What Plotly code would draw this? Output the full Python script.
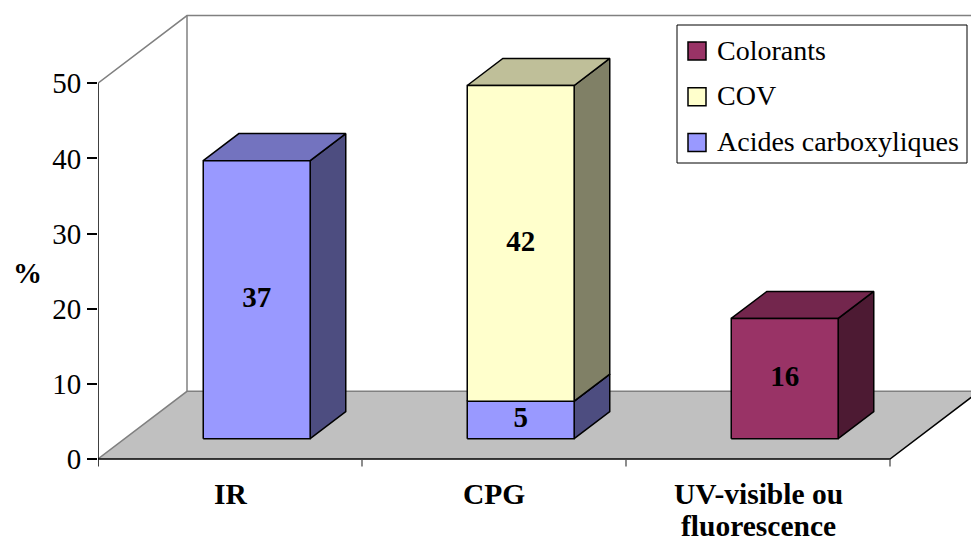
import plotly.graph_objects as go

# ---- data ----
categories = ["IR", "CPG", "UV-visible ou<br>fluorescence"]
acides = [37, 5, 0]
cov = [0, 42, 0]
colorants = [0, 0, 16]
y_ticks = [0, 10, 20, 30, 40, 50]
legend_order = ["Colorants", "COV", "Acides carboxyliques"]

# ---- styling ----
FONT = "Liberation Serif"
face_colors = {
    "Acides carboxyliques": ("#9999FF", "#7373BF", "#4D4D80"),
    "COV": ("#FFFFCC", "#BFBF99", "#808066"),
    "Colorants": ("#993366", "#73264D", "#4D1A33"),
}

# oblique projection: category units on x, value units on y, depth 0..1
DX = 89 / 264      # horizontal shift of the full depth, in category units
DY = 9.0           # vertical shift of the full depth, in value units
F0, F1 = 0.30, 0.70  # depth span of the bars
BAR_W = 0.405
N = len(categories)
Y_MAX = 50

W, H = 971, 546
L = 98
PX_PER_UNIT = 7.515
Y_ZERO_PX = 459
CAT_PX = 264


def P(u, v, d):
    return u + d * DX, v + d * DY


def poly(points, fill, line_color="black", width=1.5, close=True):
    xs, ys = [], []
    for u, v, d in points:
        x, y = P(u, v, d)
        xs.append(x)
        ys.append(y)
    if close:
        xs.append(xs[0])
        ys.append(ys[0])
    return go.Scatter(
        x=xs, y=ys, mode="lines",
        fill="toself" if fill else None,
        fillcolor=fill,
        line=dict(color=line_color, width=width),
        hoverinfo="skip", showlegend=False,
    )


fig = go.Figure()

# floor
fig.add_trace(poly([(0, 0, 0), (N, 0, 0), (N, 0, 1), (0, 0, 1)], "#C0C0C0",
                   line_color="rgba(0,0,0,0)", width=0))
fig.add_trace(poly([(0, 0, 0), (0, 0, 1), (N + 1, 0, 1)], None,
                   line_color="#808080", width=1.5, close=False))
fig.add_trace(poly([(0, 0, 0), (N, 0, 0), (N, 0, 1)], None,
                   line_color="black", width=1.5, close=False))

# back wall edges
fig.add_trace(poly([(0, Y_MAX, 0), (0, Y_MAX, 1), (N + 1, Y_MAX, 1)], None,
                   line_color="#808080", width=1.5, close=False))
fig.add_trace(poly([(0, Y_MAX, 1), (0, 0, 1)], None,
                   line_color="#808080", width=1.5, close=False))

# value axis line and category tick marks
fig.add_trace(poly([(0, -1.0, 0), (0, Y_MAX, 0)], None,
                   line_color="black", width=1.5, close=False))
for k in range(1, N + 1):
    fig.add_trace(poly([(k, 0, 0), (k, -1.0, 0)], None,
                       line_color="#404040", width=1.2, close=False))

# bars
label_x, label_y, label_t = [], [], []
stack = [("Acides carboxyliques", acides), ("COV", cov), ("Colorants", colorants)]
for i in range(N):
    base = 0
    u0 = i + 0.5 - BAR_W / 2
    u1 = i + 0.5 + BAR_W / 2
    for name, vals in stack:
        val = vals[i]
        if val <= 0:
            continue
        top = base + val
        front, topc, side = face_colors[name]
        fig.add_trace(poly([(u1, base, F0), (u1, base, F1), (u1, top, F1), (u1, top, F0)], side))
        fig.add_trace(poly([(u0, top, F0), (u1, top, F0), (u1, top, F1), (u0, top, F1)], topc))
        fig.add_trace(poly([(u0, base, F0), (u1, base, F0), (u1, top, F0), (u0, top, F0)], front))
        cx, cy = P(i + 0.5, base + val / 2, F0)
        label_x.append(cx)
        label_y.append(cy)
        label_t.append(f"<b>{val}</b>")
        base = top

fig.add_trace(go.Scatter(
    x=label_x, y=label_y, text=label_t, mode="text",
    textfont=dict(family=FONT, size=29, color="black"),
    hoverinfo="skip", showlegend=False,
))

# category labels (one annotation per text line)
FIRST_LINE = -(494 - Y_ZERO_PX) / PX_PER_UNIT
LINE_STEP = 32 / PX_PER_UNIT
for i, cat in enumerate(categories):
    for j, line in enumerate(cat.split("<br>")):
        fig.add_annotation(
            x=i + 0.5, y=FIRST_LINE - j * LINE_STEP, xref="x", yref="y",
            text=f"<b>{line}</b>", showarrow=False,
            font=dict(family=FONT, size=29.5, color="black"),
            xanchor="center", yanchor="middle",
        )

# axis title
fig.add_annotation(
    x=(27.5 - L) / (W - L), y=(Y_ZERO_PX - 273) / PX_PER_UNIT,
    xref="paper", yref="y", text="<b>%</b>",
    showarrow=False, font=dict(family=FONT, size=29, color="black"),
    xanchor="center", yanchor="middle",
)


# legend box drawn in paper space
def px_x(p):
    return (p - L) / (W - L)


def px_y(p):
    return 1 - p / H


shapes = [dict(type="rect", xref="paper", yref="paper",
               x0=px_x(677), x1=px_x(967), y0=px_y(163), y1=px_y(25),
               line=dict(color="black", width=1), fillcolor="white", layer="above")]
ROW0, ROW_STEP = 51, 45.75
for k, name in enumerate(legend_order):
    cy = ROW0 + k * ROW_STEP
    shapes.append(dict(type="rect", xref="paper", yref="paper",
                       x0=px_x(688), x1=px_x(706), y0=px_y(cy + 9), y1=px_y(cy - 9),
                       line=dict(color="black", width=1.5),
                       fillcolor=face_colors[name][0], layer="above"))
    fig.add_annotation(
        x=px_x(715), y=px_y(cy - 1), xref="paper", yref="paper",
        text=name, showarrow=False,
        font=dict(family=FONT, size=28, color="black"),
        xanchor="left", yanchor="middle",
    )

y_top = Y_ZERO_PX / PX_PER_UNIT
y_bot = -(H - Y_ZERO_PX) / PX_PER_UNIT
x_right = (W - L) / CAT_PX

fig.update_layout(
    width=W, height=H,
    margin=dict(l=L, r=0, t=0, b=0, pad=0),
    paper_bgcolor="white", plot_bgcolor="white",
    font=dict(family=FONT, size=29, color="black"),
    xaxis=dict(range=[0, x_right], visible=False, fixedrange=True),
    yaxis=dict(
        range=[y_bot, y_top], tickvals=y_ticks, ticktext=[str(t) for t in y_ticks],
        ticks="outside", ticklen=10, tickwidth=1.5, tickcolor="black",
        showline=False, zeroline=False, showgrid=False,
        tickfont=dict(family=FONT, size=29, color="black"),
        ticklabelstandoff=0, automargin=False, fixedrange=True,
    ),
    shapes=shapes,
    showlegend=False,
)

fig.write_html("out.html")
